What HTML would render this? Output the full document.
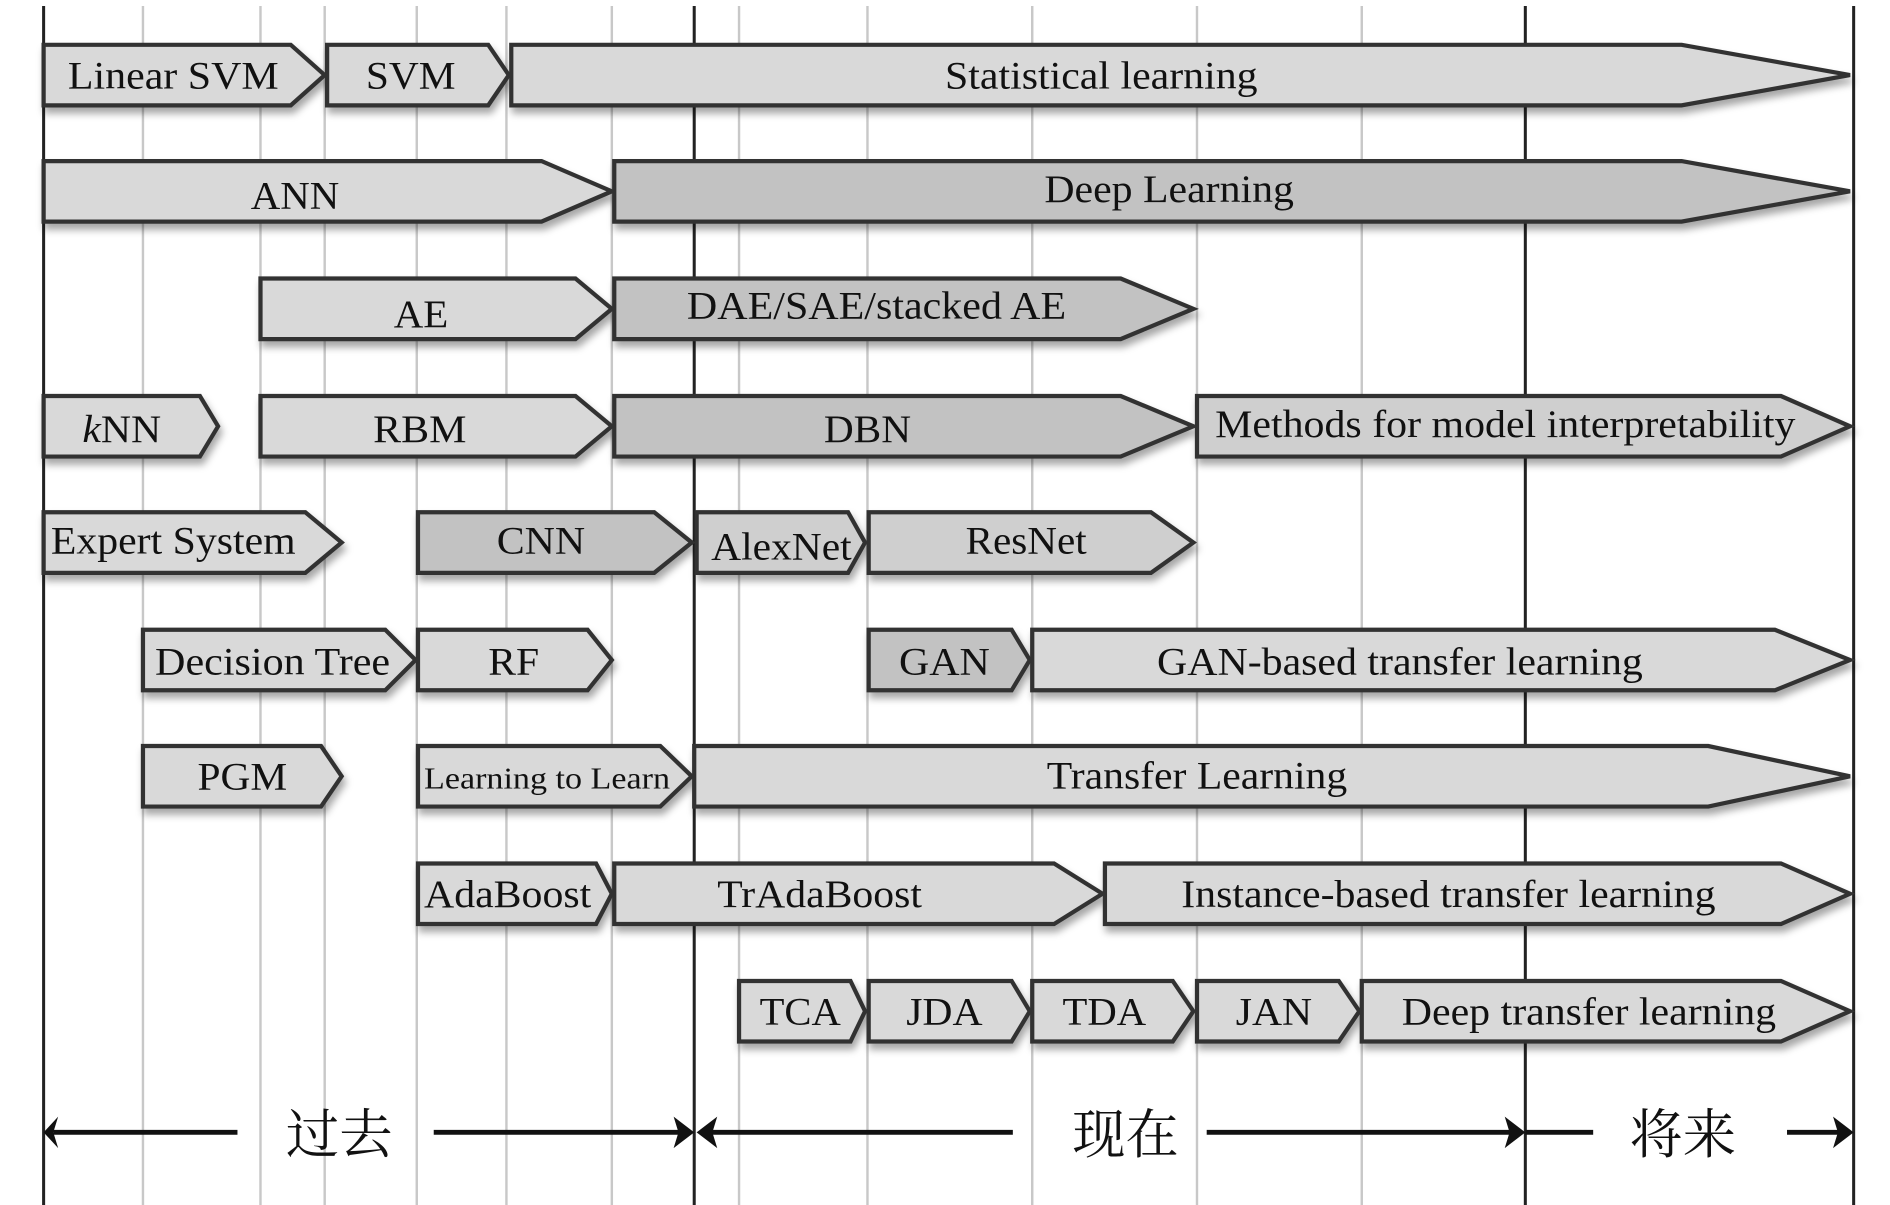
<!DOCTYPE html>
<html><head><meta charset="utf-8"><style>html,body{margin:0;padding:0;background:#fff}svg{display:block}</style></head>
<body>
<svg width="1890" height="1205" viewBox="0 0 1560 995" preserveAspectRatio="none" xmlns="http://www.w3.org/2000/svg">
<defs>
<filter id="sh" x="-5%" y="-20%" width="110%" height="160%"><feDropShadow dx="2" dy="5" stdDeviation="3" flood-color="#000" flood-opacity="0.35"/></filter>
</defs>
<g stroke="#c8c8c8" stroke-width="2">
<line x1="118" y1="5" x2="118" y2="995"/><line x1="215" y1="5" x2="215" y2="995"/><line x1="268" y1="5" x2="268" y2="995"/>
<line x1="344" y1="5" x2="344" y2="995"/><line x1="418" y1="5" x2="418" y2="995"/><line x1="505" y1="5" x2="505" y2="995"/>
<line x1="610" y1="5" x2="610" y2="995"/><line x1="716" y1="5" x2="716" y2="995"/><line x1="852" y1="5" x2="852" y2="995"/>
<line x1="988" y1="5" x2="988" y2="995"/><line x1="1124" y1="5" x2="1124" y2="995"/>
</g>
<g stroke="#222" stroke-width="2.5">
<line x1="36" y1="5" x2="36" y2="995"/><line x1="573" y1="5" x2="573" y2="995"/><line x1="1259" y1="5" x2="1259" y2="995"/><line x1="1530" y1="5" x2="1530" y2="995"/>
</g>
<g stroke="#333" stroke-width="3.5" stroke-linejoin="miter" filter="url(#sh)">
<!-- row1 -->
<polygon fill="#d9d9d9" points="36,37 240,37 268,62 240,87 36,87"/>
<polygon fill="#d9d9d9" points="270,37 403,37 420,62 403,87 270,87"/>
<polygon fill="#d9d9d9" points="422,37 1388,37 1527,62 1388,87 422,87"/>
<!-- row2 -->
<polygon fill="#d9d9d9" points="36,133 447,133 505,158 447,183 36,183"/>
<polygon fill="#c2c2c2" points="507,133 1388,133 1527,158 1388,183 507,183"/>
<!-- row3 -->
<polygon fill="#d9d9d9" points="215,230 475,230 505,255 475,280 215,280"/>
<polygon fill="#c2c2c2" points="507,230 925,230 985,255 925,280 507,280"/>
<!-- row4 -->
<polygon fill="#d9d9d9" points="36,327 165,327 180,352 165,377 36,377"/>
<polygon fill="#d9d9d9" points="215,327 475,327 505,352 475,377 215,377"/>
<polygon fill="#c2c2c2" points="507,327 925,327 985,352 925,377 507,377"/>
<polygon fill="#cfcfcf" points="988,327 1470,327 1527,352 1470,377 988,377"/>
<!-- row5 -->
<polygon fill="#d9d9d9" points="36,423 252,423 282,448 252,473 36,473"/>
<polygon fill="#c2c2c2" points="345,423 540,423 571,448 540,473 345,473"/>
<polygon fill="#cfcfcf" points="575,423 700,423 714,448 700,473 575,473"/>
<polygon fill="#cfcfcf" points="717,423 950,423 985,448 950,473 717,473"/>
<!-- row6 -->
<polygon fill="#d9d9d9" points="118,520 318,520 343,545 318,570 118,570"/>
<polygon fill="#d9d9d9" points="345,520 485,520 505,545 485,570 345,570"/>
<polygon fill="#c2c2c2" points="717,520 835,520 850,545 835,570 717,570"/>
<polygon fill="#d9d9d9" points="852,520 1465,520 1527,545 1465,570 852,570"/>
<!-- row7 -->
<polygon fill="#d9d9d9" points="118,616 265,616 282,641 265,666 118,666"/>
<polygon fill="#d9d9d9" points="345,616 545,616 571,641 545,666 345,666"/>
<polygon fill="#d9d9d9" points="573,616 1410,616 1527,641 1410,666 573,666"/>
<!-- row8 -->
<polygon fill="#d9d9d9" points="345,713 492,713 505,738 492,763 345,763"/>
<polygon fill="#d9d9d9" points="507,713 870,713 910,738 870,763 507,763"/>
<polygon fill="#d9d9d9" points="912,713 1470,713 1527,738 1470,763 912,763"/>
<!-- row9 -->
<polygon fill="#d9d9d9" points="610,810 702,810 714,835 702,860 610,860"/>
<polygon fill="#d9d9d9" points="717,810 835,810 850,835 835,860 717,860"/>
<polygon fill="#d9d9d9" points="852,810 968,810 985,835 968,860 852,860"/>
<polygon fill="#d9d9d9" points="988,810 1105,810 1122,835 1105,860 988,860"/>
<polygon fill="#d9d9d9" points="1124,810 1470,810 1527,835 1470,860 1124,860"/>
</g>
<g font-family="'Liberation Serif', serif" font-size="32" fill="#111" lengthAdjust="spacingAndGlyphs">
<text x="56" y="73" textLength="174" lengthAdjust="spacingAndGlyphs">Linear SVM</text>
<text x="302" y="73" textLength="74" lengthAdjust="spacingAndGlyphs">SVM</text>
<text x="780" y="73" textLength="258" lengthAdjust="spacingAndGlyphs">Statistical learning</text>
<text x="207" y="172" textLength="73" lengthAdjust="spacingAndGlyphs">ANN</text>
<text x="862" y="167" textLength="206" lengthAdjust="spacingAndGlyphs">Deep Learning</text>
<text x="325" y="270" textLength="45" lengthAdjust="spacingAndGlyphs">AE</text>
<text x="567" y="263" textLength="313" lengthAdjust="spacingAndGlyphs">DAE/SAE/stacked AE</text>
<text x="68" y="365" textLength="65" lengthAdjust="spacingAndGlyphs"><tspan font-style="italic">k</tspan>NN</text>
<text x="308" y="365" textLength="77" lengthAdjust="spacingAndGlyphs">RBM</text>
<text x="680" y="365" textLength="72" lengthAdjust="spacingAndGlyphs">DBN</text>
<text x="1003" y="361" textLength="479" lengthAdjust="spacingAndGlyphs">Methods for model interpretability</text>
<text x="42" y="457" textLength="202" lengthAdjust="spacingAndGlyphs">Expert System</text>
<text x="410" y="457" textLength="73" lengthAdjust="spacingAndGlyphs">CNN</text>
<text x="587" y="462" textLength="116" lengthAdjust="spacingAndGlyphs">AlexNet</text>
<text x="797" y="457" textLength="100" lengthAdjust="spacingAndGlyphs">ResNet</text>
<text x="128" y="557" textLength="194" lengthAdjust="spacingAndGlyphs">Decision Tree</text>
<text x="403" y="557" textLength="42" lengthAdjust="spacingAndGlyphs">RF</text>
<text x="742" y="557" textLength="75" lengthAdjust="spacingAndGlyphs">GAN</text>
<text x="955" y="557" textLength="401" lengthAdjust="spacingAndGlyphs">GAN-based transfer learning</text>
<text x="163" y="652" textLength="74" lengthAdjust="spacingAndGlyphs">PGM</text>
<text x="350" y="651" font-size="25" textLength="203" lengthAdjust="spacingAndGlyphs">Learning to Learn</text>
<text x="864" y="651" textLength="248" lengthAdjust="spacingAndGlyphs">Transfer Learning</text>
<text x="350" y="749" textLength="138" lengthAdjust="spacingAndGlyphs">AdaBoost</text>
<text x="592" y="749" textLength="169" lengthAdjust="spacingAndGlyphs">TrAdaBoost</text>
<text x="975" y="749" textLength="441" lengthAdjust="spacingAndGlyphs">Instance-based transfer learning</text>
<text x="627" y="846" textLength="67" lengthAdjust="spacingAndGlyphs">TCA</text>
<text x="748" y="846" textLength="63" lengthAdjust="spacingAndGlyphs">JDA</text>
<text x="877" y="846" textLength="69" lengthAdjust="spacingAndGlyphs">TDA</text>
<text x="1020" y="846" textLength="63" lengthAdjust="spacingAndGlyphs">JAN</text>
<text x="1157" y="846" textLength="309" lengthAdjust="spacingAndGlyphs">Deep transfer learning</text>
</g>
<g stroke="#111" stroke-width="4">
<line x1="44" y1="935" x2="196" y2="935"/><line x1="358" y1="935" x2="565" y2="935"/>
<line x1="581" y1="935" x2="836" y2="935"/><line x1="996" y1="935" x2="1251" y2="935"/>
<line x1="1259" y1="935" x2="1315" y2="935"/><line x1="1475" y1="935" x2="1522" y2="935"/>
</g>
<g fill="#111">
<polygon points="36,935 48,922 44,935 48,948"/>
<polygon points="573,935 556,922 560,935 556,948"/>
<polygon points="575,935 592,922 588,935 592,948"/>
<polygon points="1259,935 1242,922 1246,935 1242,948"/>
<polygon points="1530,935 1513,922 1517,935 1513,948"/>
</g>
<g font-family="'Liberation Serif','Noto Serif CJK SC','Noto Sans CJK SC',serif" font-size="44" fill="#111">
<text x="236" y="952">过去</text>
<text x="885" y="952">现在</text>
<text x="1345" y="952">将来</text>
</g>
</svg>
</body></html>
